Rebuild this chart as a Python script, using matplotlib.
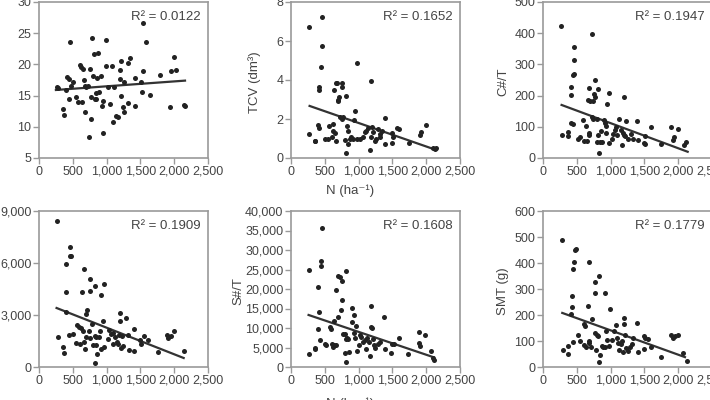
import numpy as np
import matplotlib.pyplot as plt
from matplotlib.ticker import StrMethodFormatter

plt.rcParams['font.family'] = ['Liberation Sans', 'DejaVu Sans']

# panel 1 (no y label)
n1 = [260, 275, 350, 365, 400, 410, 440, 440, 460, 475, 500, 540, 575, 600, 625, 650, 640, 665, 675,
      675, 700, 725, 735, 760, 765, 775, 790, 800, 815, 825, 840, 850, 860, 875, 890, 915, 925, 940,
      950, 985, 985, 1025, 1050, 1075, 1090, 1110, 1140, 1175, 1200, 1200, 1215, 1215, 1240, 1250,
      1260, 1310, 1315, 1340, 1415, 1425, 1515, 1525, 1535, 1535, 1590, 1635, 1785, 1940, 1950, 1990,
      2025, 2140, 2165]
v1 = [16.3, 16.2, 12.85, 11.9, 15.9, 18.0, 17.7, 14.4, 23.6, 16.5, 17.2, 14.8, 14.0, 19.9, 19.6, 19.3,
      13.9, 17.5, 12.4, 16.5, 16.3, 16.5, 8.3, 19.2, 11.2, 14.8, 24.3, 18.1, 21.6, 14.5, 15.4, 14.4,
      17.9, 21.9, 15.6, 18.2, 13.3, 9.0, 14.1, 23.9, 19.7, 16.3, 13.6, 19.7, 10.8, 16.3, 11.8, 11.6,
      17.6, 19.1, 20.6, 14.9, 13.2, 12.4, 17.1, 13.8, 20.2, 21.0, 17.9, 13.3, 17.2, 15.5, 18.9, 26.6,
      23.6, 15.1, 18.3, 13.2, 18.9, 21.2, 19.1, 13.5, 13.3]
fit1_x = [250, 2160]
fit1_y = [15.9, 17.4]

# panel 2: TCV
n2 = [265, 465, 465, 440, 410, 410, 665, 675, 750, 760, 640, 715, 700, 690, 815, 975, 1190, 940, 725,
      775, 760, 265, 350, 400, 410, 500, 540, 565, 600, 615, 625, 650, 665, 800, 815, 825, 840, 850,
      875, 890, 915, 925, 975, 1025, 1065, 1090, 1110, 1140, 1175, 1190, 1200, 1215, 1240, 1260, 1290,
      1310, 1310, 1350, 1385, 1390, 1500, 1510, 1490, 1575, 1600, 1750, 1925, 1915, 2000, 2100, 2140,
      2125, 355]
v2 = [6.74, 7.25, 5.74, 4.68, 3.62, 3.49, 3.86, 3.83, 3.86, 3.66, 3.49, 3.15, 3.0, 2.9, 3.18, 4.89,
      3.97, 2.41, 2.09, 2.12, 1.98, 1.21, 0.89, 1.69, 1.52, 0.96, 0.96, 1.64, 1.09, 1.74, 1.38, 1.26,
      0.89, 0.92, 0.24, 1.64, 1.40, 0.72, 1.0, 1.09, 0.96, 1.95, 0.96, 1.0, 1.09, 1.35, 1.40, 1.52,
      0.41, 1.09, 1.61, 1.35, 0.89, 0.96, 1.47, 1.23, 1.09, 1.40, 2.03, 0.72, 1.26, 1.09, 0.79, 1.52,
      1.47, 0.75, 1.35, 1.18, 1.67, 0.50, 0.53, 0.44, 0.85]
fit2_x = [275, 2125]
fit2_y = [2.67, 0.44]

# panel 3: C#/T
n3 = [265, 725, 465, 460, 460, 450, 415, 415, 765, 675, 815, 975, 750, 765, 665, 700, 735, 1200, 950,
      275, 375, 365, 415, 440, 525, 550, 590, 610, 650, 640, 675, 685, 725, 740, 800, 815, 800, 825,
      850, 875, 865, 900, 915, 925, 925, 975, 1025, 1040, 1065, 1075, 1090, 1125, 1150, 1175, 1190,
      1200, 1215, 1225, 1250, 1300, 1325, 1390, 1400, 1490, 1510, 1515, 1600, 1750, 1900, 1940, 1925,
      1990, 2090, 2110]
v3 = [424, 396, 355, 314, 269, 266, 227, 202, 250, 225, 220, 207, 204, 197, 186, 183, 183, 195, 173,
      74, 84, 71, 111, 108, 60, 66, 122, 56, 56, 103, 79, 74, 132, 125, 124, 75, 51, 17, 51, 51, 85,
      122, 113, 103, 81, 47, 60, 77, 90, 98, 75, 124, 90, 43, 81, 74, 69, 118, 60, 77, 60, 118, 58, 49,
      45, 70, 100, 45, 98, 66, 58, 92, 43, 51]
fit3_x = [275, 2140]
fit3_y = [170, 20]

# panel 4 (no y label)
n4 = [265, 460, 460, 475, 400, 665, 750, 825, 965, 400, 640, 750, 915, 715, 690, 400, 275, 350, 365,
      440, 500, 540, 565, 590, 610, 625, 650, 665, 675, 690, 740, 750, 790, 800, 825, 840, 850, 860,
      825, 890, 900, 915, 940, 965, 1025, 1040, 1065, 1090, 1100, 1125, 1150, 1175, 1190, 1200, 1200,
      1210, 1225, 1240, 1290, 1310, 1325, 1400, 1400, 1490, 1510, 1560, 1610, 1760, 1900, 1915, 1960,
      2000, 2140]
v4 = [8404, 6923, 6423, 6385, 5942, 5654, 5077, 4654, 4788, 4308, 4308, 4365, 4173, 3308, 3058, 3154,
      1711, 1134, 808, 1865, 1904, 1385, 2404, 2288, 1327, 2250, 2058, 1423, 1058, 1711, 2096, 1673,
      2481, 1288, 1769, 1711, 1250, 750, 231, 1711, 2058, 1058, 2673, 1135, 1635, 2154, 1904, 1327,
      1962, 1711, 1442, 1327, 1827, 3115, 2635, 1096, 1769, 1192, 2827, 1865, 1000, 942, 2211, 1577,
      1327, 1769, 1577, 865, 1865, 1673, 1769, 2058, 942]
fit4_x = [260, 2140]
fit4_y = [3404, 519]

# panel 5: S#/T
n5 = [465, 440, 440, 260, 400, 700, 725, 810, 750, 665, 750, 740, 410, 900, 1190, 935, 900, 700, 635,
      575, 590, 400, 965, 260, 350, 360, 425, 510, 525, 600, 625, 640, 665, 775, 800, 825, 815, 850,
      800, 810, 860, 925, 950, 975, 1000, 1025, 1040, 1065, 1090, 1110, 1125, 1160, 1175, 1190, 1200,
      1210, 1225, 1240, 1290, 1310, 1375, 1390, 1475, 1500, 1525, 1600, 1735, 1890, 1900, 1915, 1985,
      2075, 2115, 2100]
v5 = [35700, 27270, 25800, 24950, 20390, 23230, 22970, 24520, 21940, 19700, 17120, 14540, 14200,
      15230, 15660, 13250, 11620, 12820, 11790, 10330, 9640, 9640, 10500, 3450, 4910, 4700, 6800,
      5770, 5600, 5770, 5080, 5600, 5600, 8520, 8520, 7490, 7060, 7060, 3620, 1300, 3880, 8780, 7320,
      4220, 5600, 8180, 7660, 6460, 6800, 4740, 7490, 6460, 2760, 10240, 9900, 7060, 5600, 4910, 5770,
      6460, 12820, 4740, 3620, 5770, 5940, 7490, 3360, 9040, 6200, 5340, 8180, 4050, 1900, 2300]
fit5_x = [260, 2110]
fit5_y = [13340, 2500]

# panel 6: SMT (g)
n6 = [285, 485, 475, 465, 450, 675, 825, 775, 775, 915, 425, 665, 425, 985, 415, 725, 600, 625, 300,
      375, 365, 440, 515, 540, 600, 640, 675, 675, 715, 775, 800, 815, 790, 825, 850, 875, 890, 915,
      925, 950, 975, 1025, 1050, 1075, 1100, 1110, 1125, 1150, 1175, 1185, 1200, 1200, 1210, 1225,
      1250, 1290, 1310, 1325, 1390, 1400, 1500, 1510, 1500, 1550, 1600, 1750, 1900, 1925, 1950, 2000,
      2065, 2135]
v6 = [487, 455, 450, 404, 377, 404, 349, 327, 285, 285, 272, 233, 229, 224, 204, 186, 165, 156, 67,
      50, 82, 96, 124, 101, 83, 76, 101, 92, 76, 131, 124, 118, 67, 19, 47, 79, 76, 76, 137, 105, 82,
      105, 140, 163, 112, 92, 67, 88, 99, 58, 188, 165, 124, 73, 63, 76, 88, 112, 169, 58, 118, 112, 70,
      109, 76, 37, 122, 112, 118, 124, 54, 24]
fit6_x = [285, 2100]
fit6_y = [208, 38]

r2_labels = ['0.0122', '0.1652', '0.1947', '0.1909', '0.1608', '0.1779']
y_labels = ['', 'TCV (dm\u00b3)', 'C#/T', '', 'S#/T', 'SMT (g)']
y_label_x = [0, 255, 503, 0, 238, 503]
y_limits = [(5, 30), (0, 8), (0, 500), (0, 9000), (0, 40000), (0, 600)]
y_steps = [5, 2, 100, 3000, 5000, 100]

xs = [n1, n2, n3, n4, n5, n6]
ys = [v1, v2, v3, v4, v5, v6]
fits = [(fit1_x, fit1_y), (fit2_x, fit2_y), (fit3_x, fit3_y),
        (fit4_x, fit4_y), (fit5_x, fit5_y), (fit6_x, fit6_y)]

W, H = 710, 400
fig = plt.figure(figsize=(7.1, 4.0), dpi=100)

lefts = [39, 291, 543]
tops = [2, 211]
aw, ah = 169, 156
text_c = '#444444'
spine_c = '#9a9a9a'
fs = 9.5

for i in range(6):
    r, c = divmod(i, 3)
    left = lefts[c]
    top = tops[r]
    ax = fig.add_axes([left / W, 1 - (top + ah) / H, aw / W, ah / H])
    ax.scatter(xs[i], ys[i], s=13, color='#222222', linewidths=0, zorder=3)
    ax.plot(fits[i][0], fits[i][1], color='#333333', lw=1.6, zorder=2)
    ax.set_xlim(0, 2500)
    ax.set_ylim(*y_limits[i])
    ax.set_xticks(np.arange(0, 2501, 500))
    lo, hi = y_limits[i]
    ax.set_yticks(np.arange(lo, hi + 1, y_steps[i]))
    ax.xaxis.set_major_formatter(StrMethodFormatter('{x:,.0f}'))
    ax.yaxis.set_major_formatter(StrMethodFormatter('{x:,.0f}'))
    for s in ax.spines.values():
        s.set_color(spine_c)
        s.set_linewidth(1.2)
    ax.tick_params(direction='out', length=4, width=1, color=spine_c,
                   labelsize=9, labelcolor=text_c, pad=1.5)
    ax.text(0.955, 0.905, 'R\u00b2 = ' + r2_labels[i], transform=ax.transAxes,
            ha='right', va='center', fontsize=fs, color=text_c)
    if y_labels[i]:
        fig.text(y_label_x[i] / W, 1 - (top + 80) / H, y_labels[i], rotation=90,
                 ha='center', va='center', fontsize=fs, color=text_c)

fig.text(350 / W, 1 - 191 / H, 'N (ha\u207b\u00b9)', ha='center', va='center',
         fontsize=fs, color=text_c)
fig.text(350 / W, 1 - 404 / H, 'N (ha\u207b\u00b9)', ha='center', va='center',
         fontsize=fs, color=text_c)

fig.savefig('out.png', dpi=100)
